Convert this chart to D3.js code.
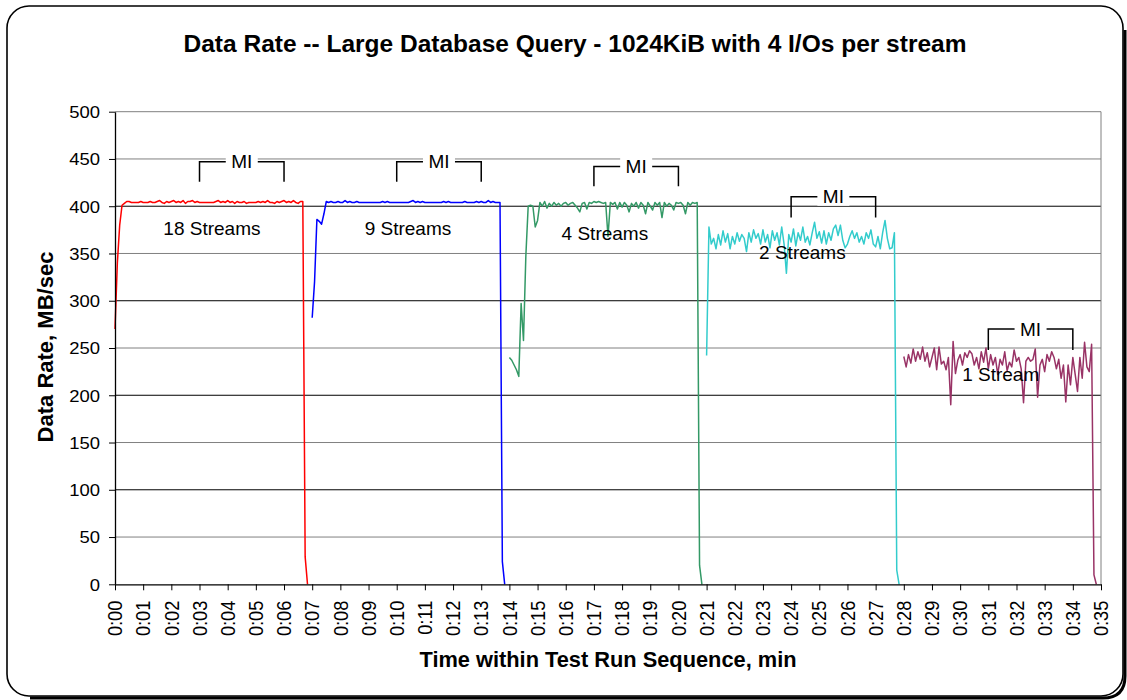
<!DOCTYPE html>
<html>
<head>
<meta charset="utf-8">
<script src="https://cdn.jsdelivr.net/npm/d3@7"></script>
<style>
  body { margin: 0; background: #fff; }
  svg { display: block; }
  text { font-family: "Liberation Sans", Arial, sans-serif; fill: #000; }
</style>
</head>
<body>
<svg id="chart"></svg>
<script>
// Data (MB/sec), one sample every 5 seconds from the start of each run
const seriesNames = ["18 Streams", "9 Streams", "4 Streams", "2 Streams", "1 Stream"];
const seriesStart = [0, 7, 14, 21, 28]; // minutes
const sampleMin = 5 / 60;

const rate18 = [
  270, 340, 380, 401, 403, 405, 405, 404, 404, 404,
  404, 405, 404, 404, 404, 405, 404, 404, 405, 406,
  404, 403, 405, 404, 405, 406, 404, 405, 404, 406,
  403, 405, 405, 406, 404, 405, 404, 404, 404, 404,
  404, 404, 404, 405, 406, 404, 405, 404, 406, 404,
  405, 403, 405, 404, 404, 405, 403, 404, 404, 404,
  404, 405, 404, 405, 404, 406, 404, 404, 403, 405,
  404, 405, 406, 404, 405, 404, 406, 404, 403, 405,
  405, 29, 0
];
const rate9 = [
  282, 320, 386, 384, 381, 392, 405, 404, 405, 404,
  404, 405, 404, 404, 406, 404, 405, 404, 404, 405,
  404, 404, 404, 404, 404, 404, 404, 404, 404, 404,
  405, 404, 405, 404, 404, 404, 404, 404, 404, 404,
  404, 404, 405, 406, 404, 405, 404, 405, 404, 404,
  404, 404, 404, 404, 404, 404, 405, 404, 405, 404,
  404, 404, 404, 404, 404, 405, 404, 404, 404, 404,
  405, 404, 405, 404, 404, 406, 404, 405, 404, 404,
  404, 24, 0
];
const rate4 = [
  240, 237, 232, 227, 220, 297, 258, 347, 400, 401,
  400, 378, 385, 404, 400, 405, 398, 403, 400, 404,
  401, 403, 400, 403, 404, 401, 403, 404, 401, 398,
  394, 403, 404, 397, 404, 403, 405, 404, 405, 404,
  403, 404, 368, 404, 402, 404, 397, 404, 399, 404,
  401, 394, 403, 400, 404, 398, 404, 401, 392, 404,
  400, 396, 404, 401, 404, 388, 404, 400, 403, 401,
  396, 404, 403, 404, 401, 392, 404, 401, 404, 403,
  404, 20, 0
];
const rate2 = [
  242, 378, 360, 366, 355, 370, 359, 374, 362, 371,
  355, 368, 360, 372, 363, 370, 366, 352, 372, 362,
  375, 366, 371, 360, 375, 362, 370, 356, 374, 364,
  372, 359, 378, 360, 329, 370, 362, 376, 358, 372,
  364, 378, 362, 368, 359, 372, 383, 366, 373, 361,
  374, 360, 372, 364, 376, 380, 369, 380, 364, 356,
  360, 368, 374, 366, 372, 362, 368, 360, 372, 366,
  375, 360, 357, 368, 355, 372, 385, 366, 355, 356,
  372, 15, 0
];
const rate1 = [
  241, 230, 243, 234, 249, 236, 246, 238, 251, 236,
  245, 230, 240, 250, 227, 251, 233, 236, 227, 240,
  190, 257, 223, 237, 243, 232, 245, 240, 247, 244,
  232, 240, 228, 246, 235, 250, 228, 243, 232, 240,
  222, 238, 232, 246, 226, 235, 230, 248, 236, 240,
  228, 192, 236, 240, 236, 238, 249, 198, 232, 238,
  225, 243, 236, 246, 240, 228, 238, 218, 232, 193,
  232, 211, 240, 222, 204, 240, 218, 256, 230, 225,
  254, 10, 0
];
const seriesValues = [rate18, rate9, rate4, rate2, rate1];
const seriesColors = ["#FF0000", "#0000FF", "#339966", "#33CCCC", "#993366"];

// Measurement interval brackets (minutes) and their heights (MB/sec)
const miSpans = [[3, 6], [10, 13], [17, 20], [24, 27], [31, 34]];
const miTop = [447, 447, 442, 410, 270];
const miBottom = [426, 426, 421, 388, 248];
// stream label anchors [minute, MB/sec]
const labelAt = [[3.44, 369.5], [10.4, 369.5], [17.39, 364.3], [24.4, 344.2], [31.44, 215.1]];

const yTicks = [0, 50, 100, 150, 200, 250, 300, 350, 400, 450, 500];
const xTicks = d3.range(0, 36);

const W = 1127, H = 700;
const plot = { left: 115, right: 1101, top: 111.7, bottom: 584.3 };

const svg = d3.select("#chart").attr("width", W).attr("height", H);

// outer frame with a little shadow
svg.append("path")
  .attr("d", `M 1125 30 L 1125 676 Q 1125 698 1103 698 L 30 698`)
  .attr("fill", "none").attr("stroke", "#000").attr("stroke-width", 3);
svg.append("rect")
  .attr("x", 7).attr("y", 6).attr("width", 1116).attr("height", 690)
  .attr("rx", 22).attr("ry", 22)
  .attr("fill", "#fff").attr("stroke", "#000").attr("stroke-width", 1.6);

const x = d3.scaleLinear().domain([0, 35]).range([plot.left, plot.right]);
const y = d3.scaleLinear().domain([0, 500]).range([plot.bottom, plot.top]);

// gridlines
svg.append("g").selectAll("line")
  .data(yTicks.filter(v => v > 0))
  .join("line")
  .attr("x1", plot.left).attr("x2", plot.right)
  .attr("y1", d => y(d)).attr("y2", d => y(d))
  .attr("stroke", d => (d % 100 === 0 && d < 500) ? "#000" : "#808080")
  .attr("stroke-width", 1);
svg.append("line")
  .attr("x1", plot.right).attr("x2", plot.right)
  .attr("y1", plot.top).attr("y2", plot.bottom)
  .attr("stroke", "#808080");

// data lines
const line = d3.line();
seriesValues.forEach((vals, k) => {
  const pts = vals.map((v, i) => [x(seriesStart[k] + i * sampleMin), y(v)]);
  svg.append("path")
    .attr("d", line(pts))
    .attr("fill", "none")
    .attr("stroke", seriesColors[k])
    .attr("stroke-width", 1.5)
    .attr("stroke-linejoin", "round");
});

// axes
const yAxis = svg.append("g")
  .attr("transform", `translate(${plot.left},0)`)
  .call(d3.axisLeft(y).tickValues(yTicks).tickSize(6).tickSizeOuter(0));
yAxis.select(".domain").attr("stroke", "#000").attr("stroke-width", 1.3);
yAxis.selectAll(".tick line").attr("stroke", "#000");
yAxis.selectAll(".tick text")
  .attr("font-size", 16.5)
  .attr("x", -15 / 1.12)
  .attr("dy", "0.36em")
  .attr("transform", "scale(1.12,1)");

const xAxis = svg.append("g")
  .attr("transform", `translate(0,${plot.bottom})`)
  .call(d3.axisBottom(x).tickValues(xTicks)
    .tickFormat(m => "0:" + String(m).padStart(2, "0"))
    .tickSize(6).tickSizeOuter(0));
xAxis.select(".domain").attr("stroke", "#000").attr("stroke-width", 1.3);
xAxis.selectAll(".tick line").attr("stroke", "#000");
xAxis.selectAll(".tick text")
  .attr("font-size", 18.2)
  .attr("x", 0).attr("y", 0).attr("dy", null)
  .attr("text-anchor", "end")
  .attr("transform", "translate(6.7,16.4) scale(1.12,1) rotate(-90)");

// MI brackets
miSpans.forEach((s, k) => {
  const x0 = x(s[0]), x1 = x(s[1]), yt = y(miTop[k]), yb = y(miBottom[k]);
  const g = svg.append("g");
  g.append("path")
    .attr("d", `M ${x0} ${yb} L ${x0} ${yt} L ${x1} ${yt} L ${x1} ${yb}`)
    .attr("fill", "none").attr("stroke", "#000").attr("stroke-width", 1.5);
  const cx = (x0 + x1) / 2;
  g.append("rect")
    .attr("x", cx - 16).attr("y", yt - 9).attr("width", 32).attr("height", 18)
    .attr("fill", "#fff");
  g.append("text")
    .attr("x", cx).attr("y", yt + 6.5)
    .attr("text-anchor", "middle")
    .attr("font-size", 19)
    .text("MI");
});

// stream labels
svg.append("g").selectAll("text")
  .data(seriesNames)
  .join("text")
  .attr("x", (d, i) => x(labelAt[i][0]))
  .attr("y", (d, i) => y(labelAt[i][1]))
  .attr("text-anchor", "middle")
  .attr("font-size", 19)
  .text(d => d);

// titles
svg.append("text")
  .attr("x", 575).attr("y", 51.5)
  .attr("text-anchor", "middle")
  .attr("font-size", 24.5).attr("font-weight", "bold")
  .text("Data Rate -- Large Database Query - 1024KiB with 4 I/Os per stream");

svg.append("text")
  .attr("transform", "translate(53,347) rotate(-90)")
  .attr("text-anchor", "middle")
  .attr("font-size", 22).attr("font-weight", "bold")
  .text("Data Rate, MB/sec");

svg.append("text")
  .attr("x", 608).attr("y", 667)
  .attr("text-anchor", "middle")
  .attr("font-size", 21.8).attr("font-weight", "bold")
  .text("Time within Test Run Sequence, min");
</script>
</body>
</html>
